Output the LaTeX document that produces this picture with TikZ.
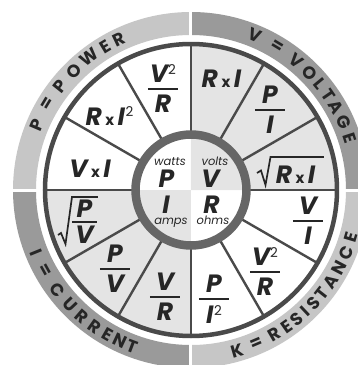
\documentclass[tikz,border=0pt]{standalone}
\usepackage{fontspec}
\setmainfont{Poppins}
\usetikzlibrary{calc}
\definecolor{bandL}{HTML}{C6C6C6}
\definecolor{bandD}{HTML}{9A9A9A}
\definecolor{secL}{HTML}{E4E4E4}
\definecolor{ringC}{HTML}{666666}
\definecolor{lineC}{HTML}{4A4A4A}
\definecolor{txt}{HTML}{262626}
\newcommand\frx[4]{\vtop{\offinterlineskip\vbox{\offinterlineskip\hbox to #1{\hss#3\hss}\kern#2\hrule height 2.5pt}\kern#2\hbox to #1{\hss#4\hss}}}
\newcommand\fr[2]{\frx{30pt}{5pt}{#1}{#2}}
\newcommand\tms{\hspace{3.5pt}{\fontsize{15}{15}\selectfont\upshape x}\hspace{3.5pt}}
\newcommand\sqd{\raisebox{8.5pt}{\fontsize{13.5}{14}\selectfont\mdseries\upshape 2}}
\begin{document}
\begin{tikzpicture}[x=1pt,y=1pt,
  fm/.style={font=\fontsize{25}{28}\selectfont\bfseries\itshape, text=txt, inner sep=0pt, anchor=base},
  sm/.style={font=\fontsize{11.5}{12}\selectfont\itshape, text=txt, inner sep=0pt, anchor=base},
  bt/.style={font=\fontsize{17.5}{18}\selectfont\bfseries, text=txt, inner sep=0pt},
  rad/.style={draw=txt, line width=1.7pt, line join=miter},
  divl/.style={draw=lineC, line width=2.4pt}]
\useasboundingbox (-191,-175) rectangle (167,190);
\clip (-191,-175) rectangle (167,190);
% outer band
\fill[bandL] (90:178) arc[start angle=90,end angle=180,radius=178] -- (180:155) arc[start angle=180,end angle=90,radius=155] -- cycle;
\fill[bandD] (0:178) arc[start angle=0,end angle=90,radius=178] -- (90:155) arc[start angle=90,end angle=0,radius=155] -- cycle;
\fill[bandD] (180:178) arc[start angle=180,end angle=270,radius=178] -- (270:155) arc[start angle=270,end angle=180,radius=155] -- cycle;
\fill[bandL] (270:178) arc[start angle=270,end angle=360,radius=178] -- (0:155) arc[start angle=360,end angle=270,radius=155] -- cycle;
\foreach \a in {0,90,180,270} \draw[white, line width=3pt] (\a:150) -- (\a:185);
% quadrant fills
\fill[secL] (0,0) -- (0:146) arc[start angle=0,end angle=90,radius=146] -- cycle;
\fill[secL] (0,0) -- (180:146) arc[start angle=180,end angle=270,radius=146] -- cycle;
% sector lines
\foreach \a in {0,30,...,330} \draw[divl] (\a:55) -- (\a:146);
\draw[lineC, line width=4.5pt] (0,0) circle[radius=146];
\draw[ringC, line width=8.5pt] (0,0) circle[radius=55.5];
% band text
\foreach \a/\c [count=\i] in {157/P,149/=,141.5/P,134.5/O,127.5/W,121/E,115.5/R}
  \node[bt, rotate=\a-90] (pw\i) at (\a:167) {\c};
\foreach \a/\c [count=\i] in {67.6/V,59/=,50.7/V,44.5/O,39.6/L,34.6/T,29.7/A,24/G,18/E}
  \node[bt, rotate=\a-90] (vo\i) at (\a:167) {\c};
\foreach \a/\c [count=\i] in {202/I,209/=,216.9/C,223.6/U,229.4/R,234.9/R,240.2/E,244.8/N,249.3/T}
  \node[bt, rotate=\a+90] (cu\i) at (\a:167) {\c};
\foreach \a/\c [count=\i] in {286/K,293/=,300/R,304.9/E,309.3/S,313.3/I,317.3/S,321.8/T,326.8/A,332.3/N,338/C,343.5/E}
  \node[bt, rotate=\a+90] (re\i) at (\a:167) {\c};
% inner labels
\node[sm] (w) at (-21,25) {watts};
\node[fm, anchor=center] (cp) at (-24.5,11.5) {P};
\node[sm] (vl) at (24,25) {volts};
\node[fm, anchor=center] (cv) at (19.5,11.5) {V};
\node[fm, anchor=center] (ci) at (-25,-14.5) {I};
\node[sm] (am) at (-20,-34) {amps};
\node[fm, anchor=center] (cr) at (20.5,-14.5) {R};
\node[sm] (oh) at (22,-34) {ohms};
% formulas
\node[fm] (f1) at (-28,99.75) {\fr{V\sqd}{R}};
\node[fm] (f2) at (-81.5,65) {R\tms I\kern0.5pt\sqd};
\node[fm] (f3) at (-101,13) {V\tms I};
\node[fm] (f4) at (30.5,103) {R\tms I};
\node[fm] (f5) at (79,78.75) {\fr{P}{I}};
\node[fm] (f6) at (104.5,6.5) {R\tms I};
\node[fm] (f7) at (117,-32.25) {\fr{V}{I}};
\node[fm] (f8) at (74,-83.25) {\fr{V\sqd}{R}};
\node[fm] (f9) at (23,-110.25) {\fr{P}{I\kern0.5pt\sqd}};
\node[fm] (f10) at (-106.5,-33.25) {\frx{25pt}{3pt}{P}{V}};
\node[fm] (f11) at (-76,-80.25) {\fr{P}{V}};
\node[fm] (f12) at (-26,-108.25) {\fr{V}{R}};
% radicals
\draw[rad] (66,17) -- (70,19.5) -- (74.5,5) -- (79.5,33) -- (133,33);
\draw[rad] (-133,-45) -- (-130,-43) -- (-125.5,-54) -- (-119,-7) -- (-93,-7);
\end{tikzpicture}
\end{document}
